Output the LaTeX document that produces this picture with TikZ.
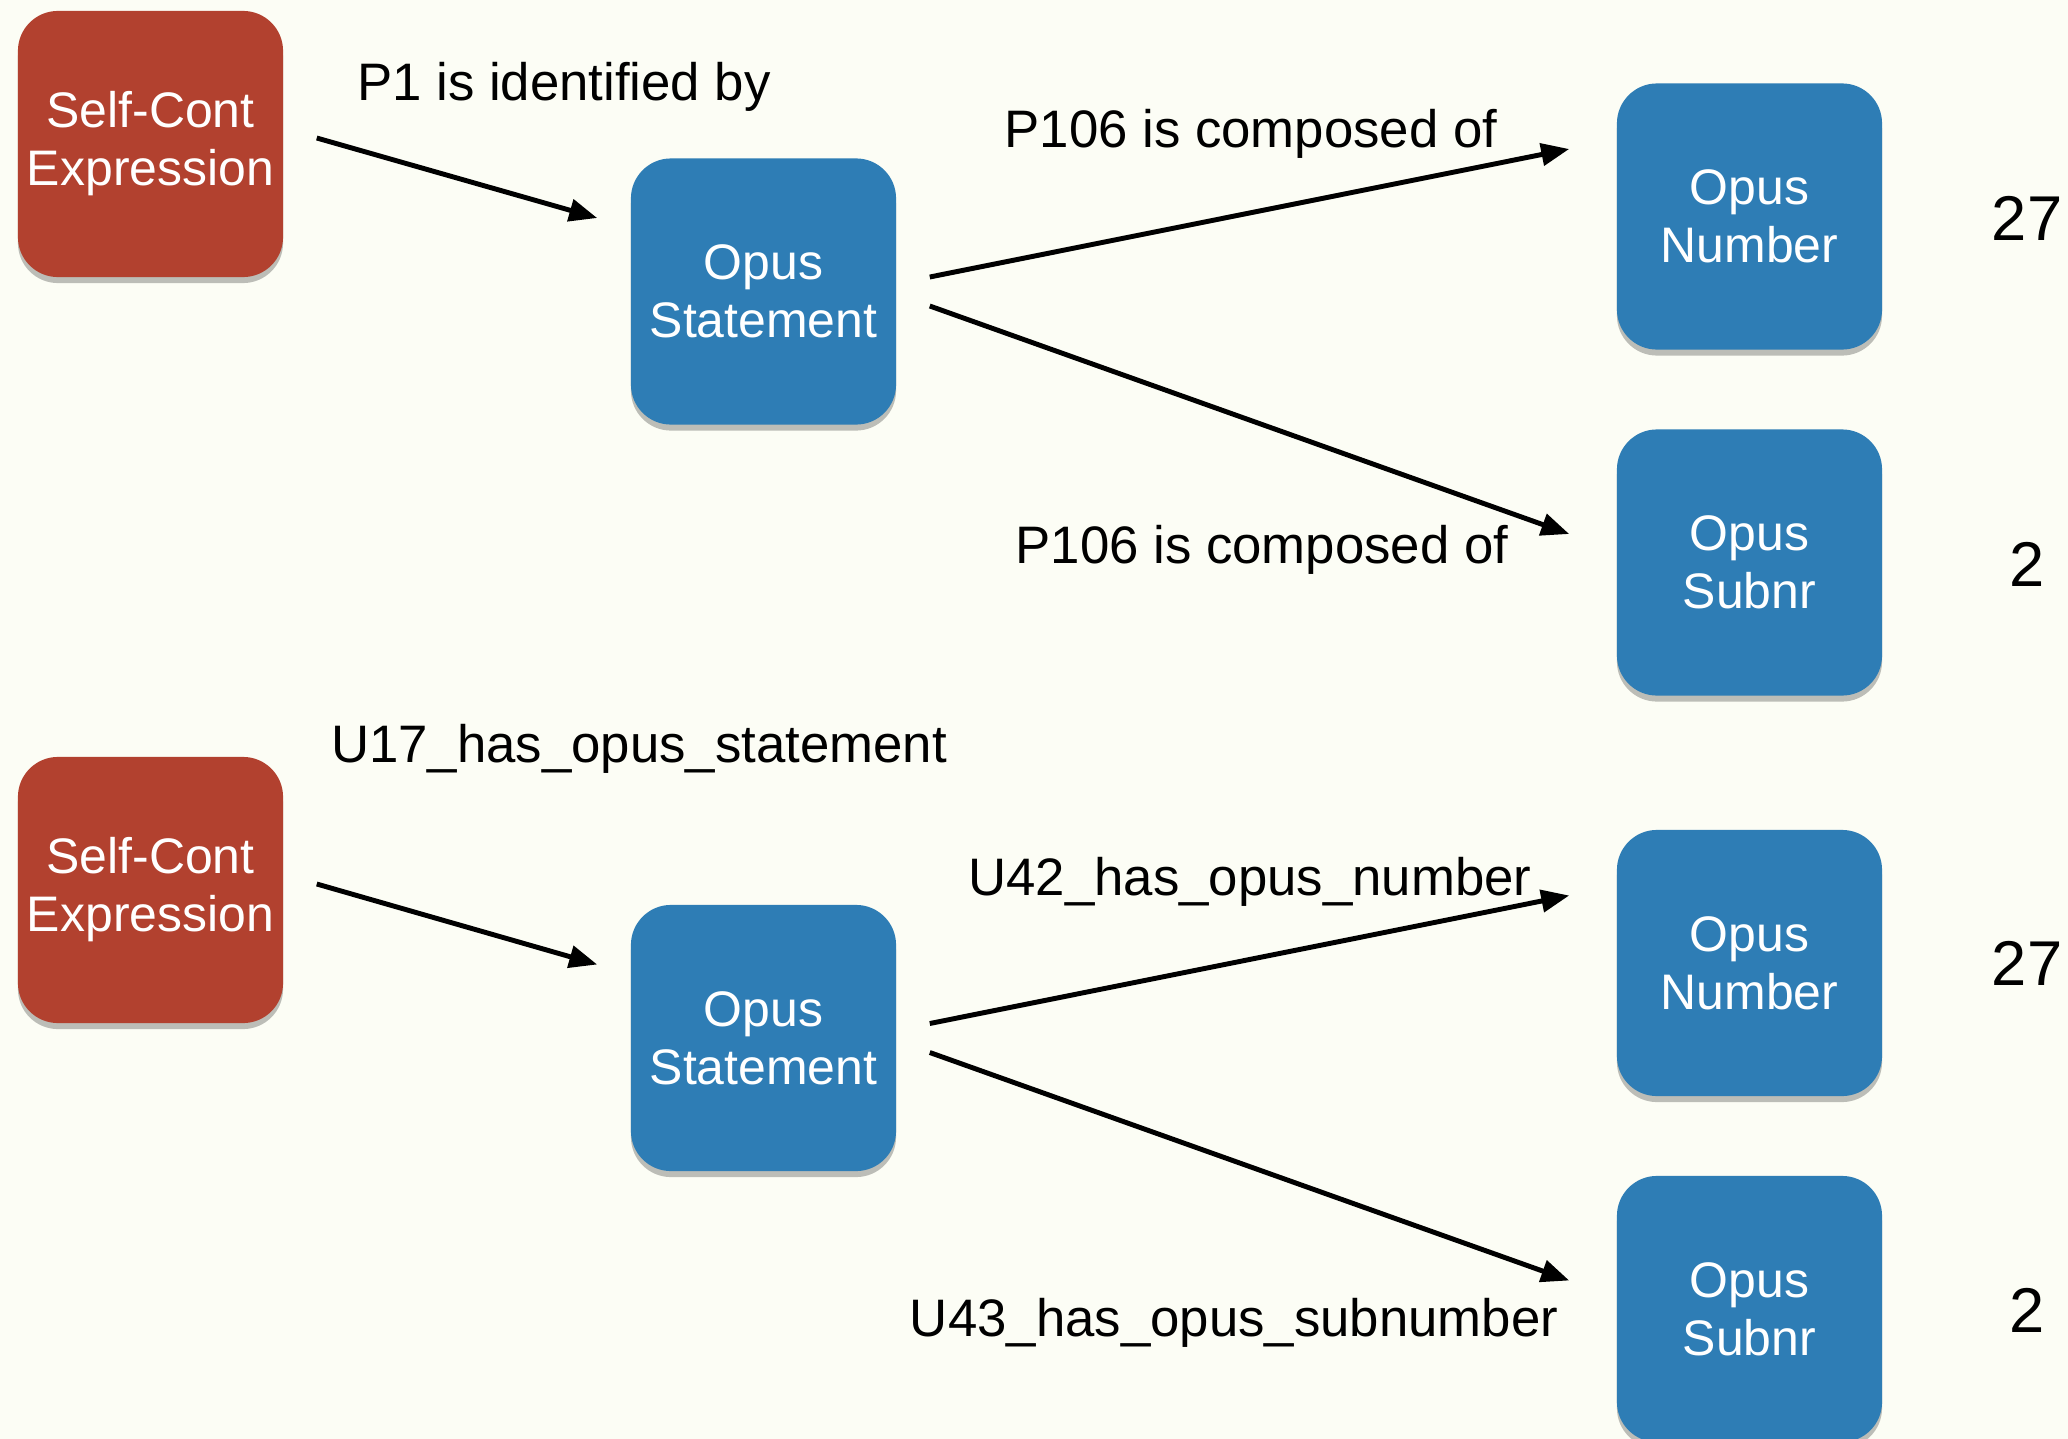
\documentclass[tikz,border=0pt]{standalone}
\usepackage{fontspec}
\setmainfont{Liberation Sans}
\usetikzlibrary{shadows,arrows.meta}
\definecolor{bg}{HTML}{FCFDF5}
\definecolor{redbox}{HTML}{B2412F}
\definecolor{bluebox}{HTML}{2E7DB5}
\begin{document}
\begin{tikzpicture}[x=0.01cm,y=-0.01cm,
  box/.style={rounded corners=0.4cm, minimum width=2.65cm, minimum height=2.66cm,
    text=white, align=center, inner sep=0pt,
    font=\fontsize{14.2}{16.5}\selectfont,
    drop shadow={shadow xshift=0pt, shadow yshift=-0.6mm, opacity=0.25, fill=black}},
  redb/.style={box, fill=redbox},
  blueb/.style={box, fill=bluebox},
  lbl/.style={font=\fontsize{15}{18}\selectfont, inner sep=0pt},
  val/.style={font=\fontsize{18}{20}\selectfont, inner sep=0pt},
  arr/.style={-{Triangle[length=2.8mm,width=2.2mm]}, line width=1.4pt}]
\fill[bg] (0,0) rectangle (2068,1439);
\useasboundingbox (0,0) rectangle (2068,1439);
\clip (0,0) rectangle (2068,1439);

% top row
\node[redb]  (red1)  at (150.5,144)   {Self-Cont\\Expression};
\node[blueb] (os1)   at (763.5,291.5) {Opus\\Statement};
\node[blueb] (on1)   at (1749.5,216.5) {Opus\\Number};
\node[blueb] (osub1) at (1749.5,562.5) {Opus\\Subnr};
\node[val] (v1) at (2027,218) {27};
\node[val] (v2) at (2027,564) {2};

\node[lbl] (l1) at (564,87)   {P1 is identified by};
\node[lbl] (l2) at (1251,134) {P106 is composed of};
\node[lbl] (l3) at (1262,550) {P106 is composed of};

\draw[arr] ([shift={(33,-6)}]red1.east) -- ([shift={(-33,-73.5)}]os1.west);
\draw[arr] ([shift={(33,-14.5)}]os1.east) -- ([shift={(-47,-67.5)}]on1.west);
\draw[arr] ([shift={(33,14.5)}]os1.east) -- ([shift={(-47,-28.5)}]osub1.west);

% bottom row
\node[redb]  (red2)  at (150.5,890)   {Self-Cont\\Expression};
\node[blueb] (os2)   at (763.5,1038)  {Opus\\Statement};
\node[blueb] (on2)   at (1749.5,963)  {Opus\\Number};
\node[blueb] (osub2) at (1749.5,1309) {Opus\\Subnr};
\node[val] (v3) at (2027,963)  {27};
\node[val] (v4) at (2027,1310) {2};

\node[lbl] (l4) at (639,749)   {U17\_has\_opus\_statement};
\node[lbl] (l5) at (1250,882)  {U42\_has\_opus\_number};
\node[lbl] (l6) at (1234,1323) {U43\_has\_opus\_subnumber};

\draw[arr] ([shift={(33,-6)}]red2.east) -- ([shift={(-33,-73.5)}]os2.west);
\draw[arr] ([shift={(33,-14.5)}]os2.east) -- ([shift={(-47,-67.5)}]on2.west);
\draw[arr] ([shift={(33,14.5)}]os2.east) -- ([shift={(-47,-28.5)}]osub2.west);
\end{tikzpicture}
\end{document}
